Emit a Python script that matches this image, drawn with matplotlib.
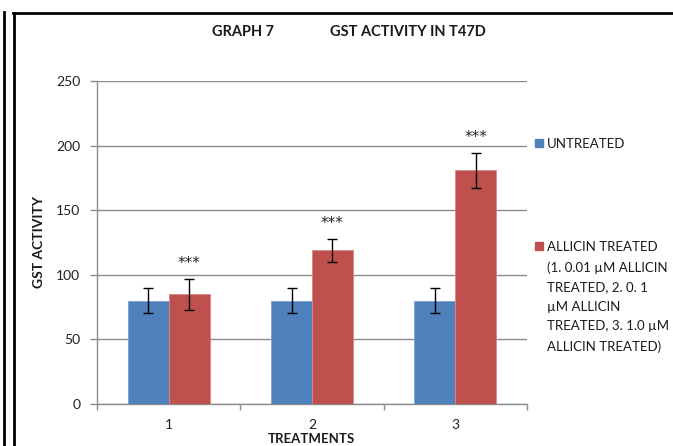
import matplotlib.pyplot as plt
from matplotlib.lines import Line2D
from matplotlib.ticker import FixedLocator
import numpy as np

plt.rcParams['font.family'] = ['Lato', 'DejaVu Sans']

categories = ["1", "2", "3"]
untreated = [80, 80, 80]
untreated_err = [9.5, 9.5, 9.5]
allicin = [85, 119, 181]
allicin_err = [12, 9, 13.5]
stars = ["***", "***", "***"]
series_labels = ["UNTREATED",
                 "ALLICIN TREATED\n(1. 0.01 \u00b5M ALLICIN\nTREATED, 2. 0. 1\n"
                 "\u00b5M ALLICIN\nTREATED, 3. 1.0 \u00b5M\nALLICIN TREATED)"]
colors = ["#4F81BD", "#C0504D"]

W, H = 673, 446
fig = plt.figure(figsize=(W / 100, H / 100), dpi=100)


def fx(x):
    return x / W


def fy(y):
    return 1 - y / H


# frame lines around the chart
fig.add_artist(Line2D([fx(4), fx(4)], [fy(12), 0], color="black", lw=2))
fig.add_artist(Line2D([fx(14), fx(14)], [fy(13), 0], color="black", lw=2))
fig.add_artist(Line2D([fx(13), 1], [fy(13), fy(13)], color="black", lw=2))

ax = fig.add_axes([fx(97), fy(404), fx(527) - fx(97), fy(81) - fy(404)])

x = np.arange(len(categories))
w = 0.2857
err_kw = dict(ecolor="black", capsize=3.5, elinewidth=1, capthick=1)
ax.bar(x - w / 2, untreated, w, yerr=untreated_err, color=colors[0],
       edgecolor="#7FA2D0", linewidth=0.6, error_kw=err_kw, zorder=3)
ax.bar(x + w / 2, allicin, w, yerr=allicin_err, color=colors[1],
       edgecolor="#D98886", linewidth=0.6, error_kw=err_kw, zorder=3)

for xi, v, e, s in zip(x, allicin, allicin_err, stars):
    ax.annotate(s, (xi + w / 2, v + e), xytext=(0, 11), textcoords="offset points",
                ha="center", va="center", fontsize=11, family="DejaVu Sans",
                color="#222222")

ax.set_xlim(-0.5, 2.5)
ax.set_ylim(0, 250)
ax.set_yticks(range(0, 251, 50))
ax.yaxis.grid(True, color="#8C8C8C", lw=1)
ax.set_axisbelow(True)

ax.xaxis.set_major_locator(FixedLocator([-0.5, 0.5, 1.5, 2.5]))
ax.xaxis.set_minor_locator(FixedLocator(x))
ax.set_xticklabels([], minor=False)
ax.set_xticklabels(categories, minor=True)
ax.tick_params(axis="x", which="major", length=4, color="#8C8C8C", width=1)
ax.tick_params(axis="x", which="minor", length=0, pad=11, labelsize=10,
               labelcolor="#222222")
ax.tick_params(axis="y", length=5, color="#8C8C8C", width=1, pad=7,
               labelsize=10, labelcolor="#222222")

for side in ["top", "right"]:
    ax.spines[side].set_visible(False)
for side in ["left", "bottom"]:
    ax.spines[side].set_color("#8C8C8C")
    ax.spines[side].set_linewidth(1)

# titles
fig.text(fx(212), fy(32), "GRAPH 7", fontsize=10.5, fontweight="bold",
         ha="left", va="center", color="#1a1a1a")
fig.text(fx(330), fy(32), "GST ACTIVITY IN T47D", fontsize=10.5, fontweight="bold",
         ha="left", va="center", color="#1a1a1a")
fig.text(fx(39), fy(242), "GST ACTIVITY", fontsize=10, fontweight="bold",
         rotation=90, ha="center", va="center", color="#1a1a1a")
fig.text(fx(311), fy(439), "TREATMENTS", fontsize=9.5, fontweight="bold",
         ha="center", va="center", color="#1a1a1a")

# legend
legend_y = [143, 246]
for lab, c, yy in zip(series_labels, colors, legend_y):
    fig.patches.append(plt.Rectangle((fx(535), fy(yy + 4)), fx(8), 8 / H,
                                     transform=fig.transFigure, color=c))
    fig.text(fx(547), fy(yy - 5), lab, fontsize=9.5, ha="left", va="top",
             linespacing=1.76, color="#1a1a1a")

fig.savefig("out.png", dpi=100)
